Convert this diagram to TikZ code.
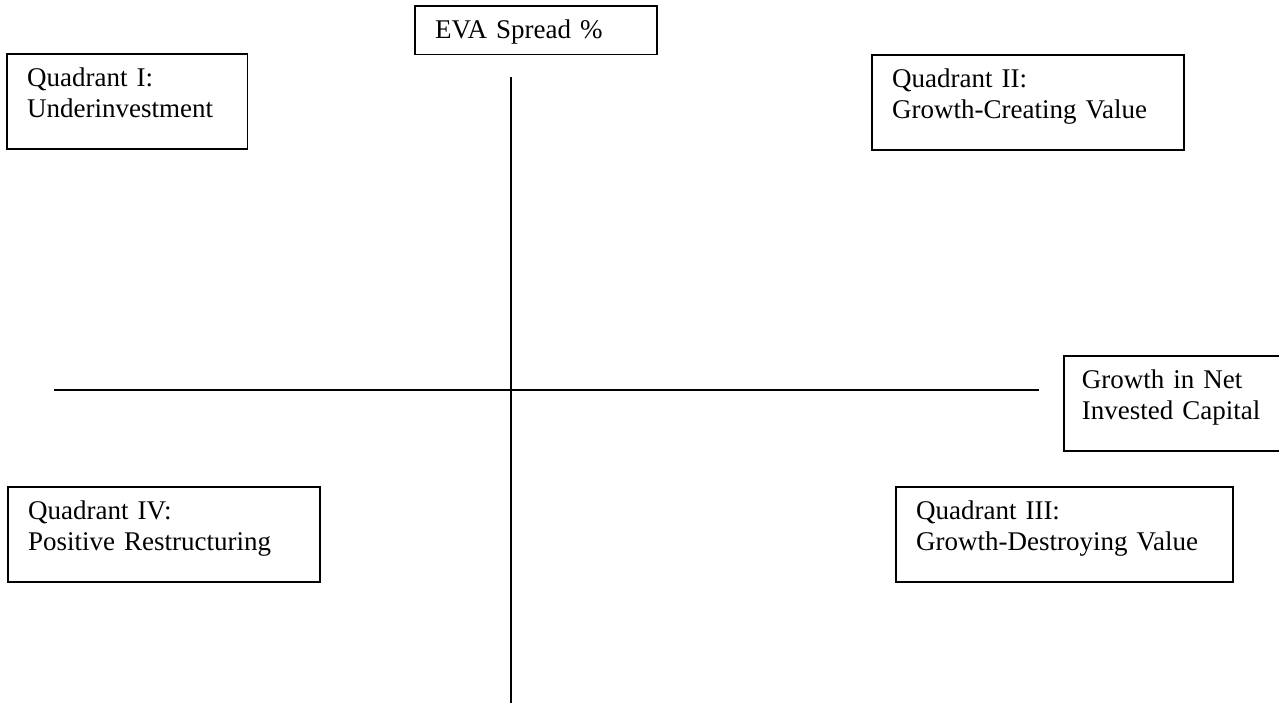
\documentclass[tikz,border=0pt]{standalone}
\usepackage{fontspec}
\setmainfont{Liberation Serif}
\usetikzlibrary{positioning}
\tikzset{
  basic/.style    = {draw, rectangle, line width=0.7pt, anchor=north west, align=left,
                     font=\fontsize{12}{13.8}\selectfont, inner xsep=9pt, inner ysep=3.6pt,
                     text height=11pt},
  axis label/.style = {basic, text depth=3.5pt},
  quadrant/.style = {basic, text depth=24pt},
  axis/.style     = {line width=0.9pt}
}

\begin{document}
\begin{tikzpicture}[x=0.4444pt, y=-0.4444pt]
\useasboundingbox (0,0) rectangle (1279,703);

% axis labels
\node[axis label, text width=89.6pt] (eva) at (414,5) {EVA Spread \%};
\node[quadrant, text width=80pt, inner xsep=8pt] (nic) at (1063,355) {Growth in Net\\Invested Capital};

% the four quadrants
\node[quadrant, text width=89pt]    (q1) at (6,53)    {Quadrant I:\\Underinvestment};
\node[quadrant, text width=120.7pt] (q2) at (871,54)  {Quadrant II:\\Growth-Creating Value};
\node[quadrant, text width=131.8pt] (q3) at (895,486) {Quadrant III:\\Growth-Destroying Value};
\node[quadrant, text width=120.7pt] (q4) at (7,486)   {Quadrant IV:\\Positive Restructuring};

% axes
\coordinate (ytop) at (511,77);
\coordinate (ybot) at (511,703);
\coordinate (xleft) at (54,390);
\coordinate (xright) at (1039,390);
\draw[axis] (ytop) -- (ybot);
\draw[axis] (xleft) -- (xright);
\end{tikzpicture}
\end{document}
